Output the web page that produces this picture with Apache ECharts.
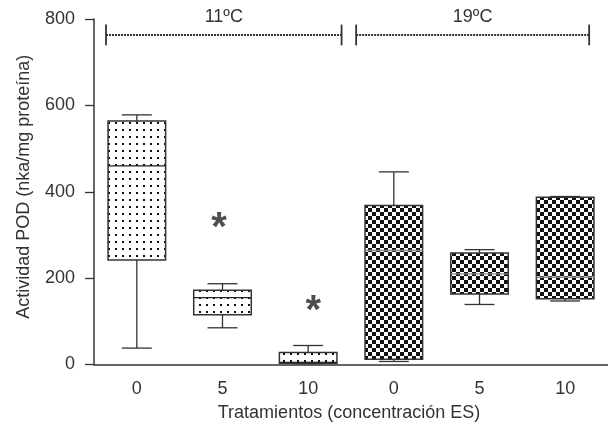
<!DOCTYPE html>
<html>
<head>
<meta charset="utf-8">
<script src="https://cdn.jsdelivr.net/npm/echarts@6/dist/echarts.min.js"></script>
<style>html,body{margin:0;padding:0;background:#fff}#c{width:608px;height:431px}</style>
</head>
<body>
<div id="c"></div>
<script>
// ---- data ----
var categories = ['11-0', '11-5', '11-10', '19-0', '19-5', '19-10'];
var tickLabels = ['0', '5', '10', '0', '5', '10'];
// [categoryIndex, min, Q1, median, Q3, max]
var boxes11 = [
  [0, 38, 242, 460, 564, 578],
  [1, 85, 115, 155, 172, 187],
  [2, 2, 3, 5, 28, 44]
];
var boxes19 = [
  [3, 7, 12, 264, 368, 446],
  [4, 139, 163, 210, 258, 266],
  [5, 147, 152, 202, 387, 389]
];
// significance marks: [x position in category units, value]
var asterisks = [[0.96, 334], [2.06, 142]];
// [start, end, yValue, label]
var brackets = [
  [-0.36, 2.39, 763, '11ºC'],
  [2.56, 5.28, 763, '19ºC']
];
var yTicks = {min: 0, max: 800, interval: 200};

// ---- patterns ----
function dotPattern() {
  var c = document.createElement('canvas'); c.width = 7; c.height = 7;
  var g = c.getContext('2d');
  g.fillStyle = '#fff'; g.fillRect(0, 0, 7, 7);
  g.fillStyle = '#111'; g.fillRect(3, 3, 2, 2);
  return {image: c, repeat: 'repeat'};
}
function checkPattern() {
  var c = document.createElement('canvas'); c.width = 8; c.height = 8;
  var g = c.getContext('2d');
  g.fillStyle = '#fff'; g.fillRect(0, 0, 8, 8);
  g.fillStyle = '#111'; g.fillRect(0, 0, 4, 4); g.fillRect(4, 4, 4, 4);
  return {image: c, repeat: 'repeat'};
}

function boxRenderer(fill, medianColor) {
  return function (params, api) {
    var i = api.value(0);
    var pMin = api.coord([i, api.value(1)]);
    var pQ1 = api.coord([i, api.value(2)]);
    var pMd = api.coord([i, api.value(3)]);
    var pQ3 = api.coord([i, api.value(4)]);
    var pMax = api.coord([i, api.value(5)]);
    var band = api.size([1, 0])[0];
    var bw = band * 0.672 / 2, cw = band * 0.35 / 2;
    var x = pMin[0];
    var ls = {stroke: '#333', lineWidth: 1.3};
    return {type: 'group', children: [
      {type: 'line', shape: {x1: x, y1: pMax[1], x2: x, y2: pQ3[1]}, style: ls},
      {type: 'line', shape: {x1: x, y1: pQ1[1], x2: x, y2: pMin[1]}, style: ls},
      {type: 'line', shape: {x1: x - cw, y1: pMax[1], x2: x + cw, y2: pMax[1]}, style: ls},
      {type: 'line', shape: {x1: x - cw, y1: pMin[1], x2: x + cw, y2: pMin[1]}, style: ls},
      {type: 'rect', shape: {x: x - bw, y: pQ3[1], width: 2 * bw, height: pQ1[1] - pQ3[1]},
        style: {fill: fill, stroke: '#333', lineWidth: 1.5}},
      {type: 'line', shape: {x1: x - bw, y1: pMd[1], x2: x + bw, y2: pMd[1]},
        style: {stroke: medianColor, lineWidth: 1.3}}
    ]};
  };
}

var chart = echarts.init(document.getElementById('c'), null, {renderer: 'canvas'});
var font = '"Liberation Sans", Arial, sans-serif';
chart.setOption({
  animation: false,
  grid: {left: 94, right: -3, top: 19, bottom: 66.5, containLabel: false},
  xAxis: [{
    type: 'category', data: categories, boundaryGap: true,
    axisLine: {lineStyle: {color: '#333', width: 1.5}},
    axisTick: {alignWithLabel: true, length: 10, lineStyle: {color: '#333', width: 1.3}},
    axisLabel: {formatter: function (v, idx) { return tickLabels[idx]; }, fontSize: 18, color: '#333', fontFamily: font, margin: 16},
    name: 'Tratamientos (concentración ES)', nameLocation: 'middle', nameGap: 40,
    nameTextStyle: {fontSize: 18, color: '#333', fontFamily: font, padding: [0, 4, 0, 0]}
  }, {
    type: 'value', min: -0.5, max: 5.5, show: false
  }],
  yAxis: {
    type: 'value', min: yTicks.min, max: yTicks.max, interval: yTicks.interval,
    splitLine: {show: false},
    axisLine: {show: true, onZero: false, lineStyle: {color: '#333', width: 1.5}},
    axisTick: {show: true, length: 9, lineStyle: {color: '#333', width: 1.3}},
    axisLabel: {fontSize: 18, color: '#333', fontFamily: font, margin: 19},
    name: 'Actividad POD (nka/mg proteína)', nameLocation: 'middle', nameGap: 61,
    nameTextStyle: {fontSize: 18, color: '#333', fontFamily: font, padding: [0, 0, 0, 10]}
  },
  series: [{
    type: 'custom', xAxisIndex: 0, data: boxes11, renderItem: boxRenderer(dotPattern(), '#222'), clip: false
  }, {
    type: 'custom', xAxisIndex: 0, data: boxes19, renderItem: boxRenderer(checkPattern(), '#888'), clip: false
  }, {
    type: 'scatter', xAxisIndex: 1, data: asterisks, symbolSize: 0, silent: true,
    label: {show: true, position: 'inside', formatter: '*', fontSize: 40, fontWeight: 'bold',
      color: '#222', fontFamily: font, offset: [0, 9]}
  }, {
    type: 'custom', xAxisIndex: 1, data: brackets, clip: false,
    renderItem: function (params, api) {
      var y = api.value(2);
      var a = api.coord([api.value(0), y]);
      var b = api.coord([api.value(1), y]);
      var capT = api.coord([api.value(0), y + 24])[1];
      var capB = api.coord([api.value(0), y - 24])[1];
      var ls = {stroke: '#333', lineWidth: 1.8};
      var label = brackets[params.dataIndex][3];
      return {type: 'group', children: [
        {type: 'line', shape: {x1: a[0], y1: a[1], x2: b[0], y2: b[1]}, style: {stroke: '#333', lineWidth: 2, lineDash: [2, 1]}},
        {type: 'line', shape: {x1: a[0], y1: capT, x2: a[0], y2: capB}, style: ls},
        {type: 'line', shape: {x1: b[0], y1: capT, x2: b[0], y2: capB}, style: ls},
        {type: 'text', style: {text: label, x: (a[0] + b[0]) / 2, y: 17, align: 'center', verticalAlign: 'middle',
          fontSize: 18, fontFamily: font, fill: '#333'}}
      ]};
    }
  }]
});
</script>
</body>
</html>
